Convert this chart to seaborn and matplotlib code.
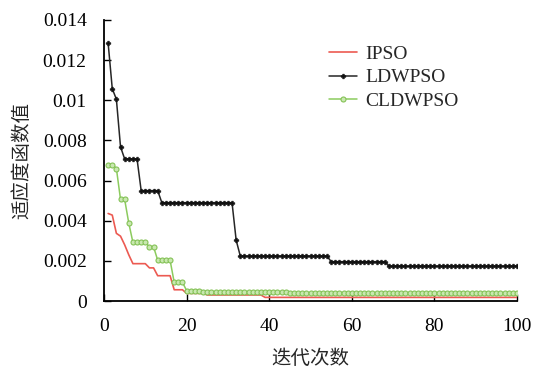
import matplotlib
matplotlib.use("Agg")
import matplotlib.pyplot as plt
import seaborn as sns
import pandas as pd

# Best fitness value per iteration (1..100) for each optimizer
iterations = list(range(1, 101))

ipso = ([0.00436, 0.00428, 0.00337, 0.00323, 0.0028, 0.0023]
        + [0.00186] * 4 + [0.00165] * 2 + [0.00126] * 4
        + [0.00056] * 3 + [0.00038] * 5 + [0.00030] * 14
        + [0.00018] * 62)

ldwpso = ([0.01285, 0.01058, 0.01005, 0.00768]
          + [0.00708] * 4 + [0.0055] * 5 + [0.0049] * 18
          + [0.00303] + [0.00224] * 22 + [0.00196] * 14
          + [0.00174] * 32)

cldwpso = ([0.0068, 0.0068, 0.0066, 0.00506, 0.00506, 0.00388]
           + [0.00292] * 4 + [0.0027] * 2 + [0.00203] * 4
           + [0.00093] * 3 + [0.00052] * 4 + [0.00044] * 21
           + [0.00038] * 56)

series_names = ["IPSO", "LDWPSO", "CLDWPSO"]
x_ticks = [0, 20, 40, 60, 80, 100]
y_ticks = [0, 0.002, 0.004, 0.006, 0.008, 0.010, 0.012, 0.014]
y_tick_labels = ["0", "0.002", "0.004", "0.006", "0.008", "0.01", "0.012", "0.014"]
x_label = "迭代次数"
y_label = "适应度函数值"

sns.set_theme(style="ticks")
plt.rcParams["font.family"] = ["Liberation Serif", "Noto Sans CJK SC"]
plt.rcParams["font.size"] = 14

df = pd.DataFrame({
    "iter": iterations * 3,
    "value": ipso + ldwpso + cldwpso,
    "algo": [series_names[0]] * 100 + [series_names[1]] * 100 + [series_names[2]] * 100,
})

fig = plt.figure(figsize=(5.33, 3.70), dpi=100)
ax = fig.add_axes([104 / 533, 1 - 301 / 370, (517 - 104) / 533, (301 - 20) / 370])

styles = {
    "IPSO": dict(color="#ec5a52", linewidth=1.2, marker=None),
    "LDWPSO": dict(color="#262626", linewidth=1.1, marker="P", markersize=3.4,
                   markeredgewidth=0.4, markeredgecolor="#111111",
                   markerfacecolor="#111111"),
    "CLDWPSO": dict(color="#8ccb5e", linewidth=1.1, marker="o", markersize=3.6,
                    markerfacecolor="#c9e8b0", markeredgecolor="#84c256",
                    markeredgewidth=0.8),
}

for name in series_names:
    sub = df[df["algo"] == name]
    sns.lineplot(data=sub, x="iter", y="value", ax=ax, label=name, **styles[name])

ax.set_xlim(0, 100)
ax.set_ylim(0, 0.014)
ax.set_xticks(x_ticks)
ax.set_xticklabels([str(t) for t in x_ticks])
ax.set_yticks(y_ticks)
ax.set_yticklabels(y_tick_labels)
ax.tick_params(direction="in", length=5, width=1.0, colors="black",
               labelsize=14, pad=12.5)
for side in ("top", "right"):
    ax.spines[side].set_visible(False)
for side in ("left", "bottom"):
    ax.spines[side].set_linewidth(1.3)
    ax.spines[side].set_color("black")

ax.set_xlabel(x_label, fontsize=14, labelpad=10)
ax.set_ylabel(y_label, fontsize=14, labelpad=8)

leg = ax.legend(loc="upper left", bbox_to_anchor=(329 / 533, 1 - 45 / 370),
                bbox_transform=fig.transFigure, frameon=False, fontsize=14,
                handlelength=1.45, handletextpad=0.4, labelspacing=0.32,
                borderpad=0, borderaxespad=0)

fig.savefig("out.png", dpi=100)
